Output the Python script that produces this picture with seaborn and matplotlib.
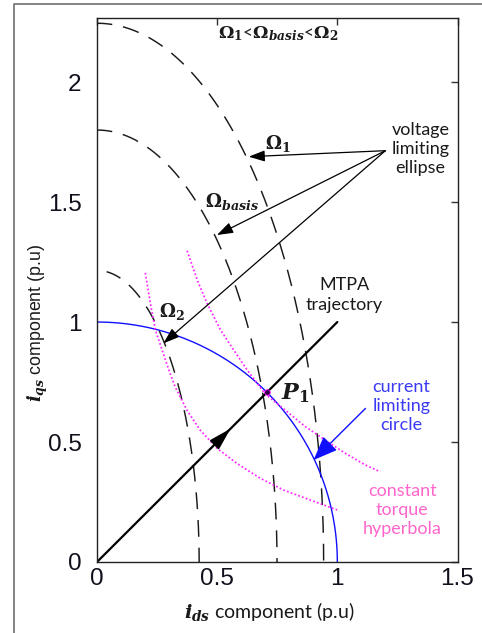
import numpy as np
import pandas as pd
import matplotlib
matplotlib.use("Agg")
import matplotlib.pyplot as plt
import seaborn as sns
from matplotlib.lines import Line2D

# ---------------- data ----------------
x_ticks = [0, 0.5, 1, 1.5]
x_tick_labels = ["0", "0.5", "1", "1.5"]
y_ticks = [0, 0.5, 1, 1.5, 2]
y_tick_labels = ["0", "0.5", "1", "1.5", "2"]

# voltage limiting ellipses (Omega_1, Omega_basis, Omega_2): semi-axes and start of drawn arc
ellipse_names = ["Omega_1", "Omega_basis", "Omega_2"]
ellipse_x_semi = [0.943, 0.749, 0.425]
ellipse_y_semi = [2.245, 1.800, 1.215]
ellipse_x_start = [0.0, 0.0, 0.04]

# current limiting circle
circle_radius = 1.0

# constant torque hyperbolas
torque_low_x = [0.201, 0.222, 0.243, 0.271, 0.299, 0.325, 0.374, 0.429, 0.499, 0.582, 0.679, 0.776, 0.888, 0.999]
torque_low_y = [1.205, 1.078, 0.967, 0.883, 0.800, 0.730, 0.633, 0.550, 0.474, 0.411, 0.349, 0.300, 0.258, 0.217]
torque_high_x = [0.375, 0.417, 0.458, 0.514, 0.569, 0.625, 0.700, 0.783, 0.867, 0.950, 1.033, 1.117, 1.179]
torque_high_y = [1.297, 1.175, 1.078, 0.967, 0.883, 0.800, 0.700, 0.633, 0.564, 0.508, 0.453, 0.404, 0.376]

# MTPA trajectory
mtpa_x = [0.0, 1.0]
mtpa_y = [0.0, 1.0]

# operating point P1
p1_x = [0.707]
p1_y = [0.707]

# ---------------- styling ----------------
sns.set_theme(style="white")
plt.rcParams["font.family"] = ["Lato", "DejaVu Sans"]
plt.rcParams["mathtext.fontset"] = "custom"
plt.rcParams["mathtext.rm"] = "DejaVu Serif:bold"
plt.rcParams["mathtext.it"] = "DejaVu Serif:italic:bold"
plt.rcParams["mathtext.bf"] = "DejaVu Serif:bold"
plt.rcParams["lines.scale_dashes"] = True

W, H = 482, 633
fig = plt.figure(figsize=(W / 100, H / 100), dpi=100)
fig.patch.set_facecolor("white")
ax = fig.add_axes([97 / W, 1 - 562 / H, (457.5 - 97) / W, (562 - 17.5) / H])
ax.set_facecolor("white")

# outer grey frame (left and top only)
fig.add_artist(Line2D([14 / W, 14 / W, 1.0], [0.0, 1 - 4 / H, 1 - 4 / H],
                      transform=fig.transFigure, color="#7a7a7a", lw=1.3))

# ellipses
for a, b, xs in zip(ellipse_x_semi, ellipse_y_semi, ellipse_x_start):
    th = np.linspace(np.arcsin(xs / a), np.pi / 2, 300)
    df = pd.DataFrame({"x": a * np.sin(th), "y": b * np.cos(th)})
    sns.lineplot(data=df, x="x", y="y", sort=False, estimator=None, ax=ax,
                 color="#1a1a1a", lw=1.05, linestyle=(1, (11.5, 7.5)))

# circle
th = np.linspace(0, np.pi / 2, 300)
circ = pd.DataFrame({"x": circle_radius * np.cos(th)[::-1], "y": circle_radius * np.sin(th)[::-1]})
sns.lineplot(data=circ, x="x", y="y", sort=False, estimator=None, ax=ax, color="#1010ff", lw=1.0)

# torque hyperbolas
for hx, hy in [(torque_low_x, torque_low_y), (torque_high_x, torque_high_y)]:
    sns.lineplot(x=hx, y=hy, sort=False, estimator=None, ax=ax,
                 color="#ff22ff", lw=1.25, linestyle=(0, (1, 1.3)))

# MTPA line
sns.lineplot(x=mtpa_x, y=mtpa_y, sort=False, estimator=None, ax=ax, color="black", lw=1.6)
ax.annotate("", xy=(0.556, 0.556), xytext=(0.49, 0.49),
            arrowprops=dict(arrowstyle="-|>,head_length=1.0,head_width=0.28", color="black",
                            lw=1.2, shrinkA=0, shrinkB=0, mutation_scale=14))

# P1 point
sns.scatterplot(x=p1_x, y=p1_y, ax=ax, s=16, color="#2a0040", edgecolor="#ff00ff", linewidth=0.6, zorder=5)

# ---------------- axes ----------------
ax.set_xlim(0, 1.5)
ax.set_ylim(0, 2.269)
ax.set_xticks(x_ticks)
ax.set_xticklabels(x_tick_labels)
ax.set_yticks(y_ticks)
ax.set_yticklabels(y_tick_labels)
for lab in ax.get_xticklabels() + ax.get_yticklabels():
    lab.set_family(["Liberation Sans", "DejaVu Sans"])
    lab.set_fontsize(17.5)
    lab.set_color("#10101c")
ax.tick_params(axis="both", which="both", direction="in", top=True, right=True,
               length=4.8, width=1.0, color="#333333")
ax.tick_params(axis="x", pad=4)
ax.tick_params(axis="y", pad=11)
for s in ax.spines.values():
    s.set_color("#222222")
    s.set_linewidth(1.0)

ax.set_xlabel(r"$i_{ds}$ component (p.u)", fontsize=14, color="#1a1a1a",
              family=["Lato", "DejaVu Sans"])
ax.xaxis.set_label_coords((269 - 97) / 360.5, (562 - 611.7) / 544.5)
ax.xaxis.label.set_va("center")
ax.set_ylabel(r"$i_{qs}$ component (p.u)", fontsize=12.8, color="#1a1a1a",
              family=["Liberation Sans", "DejaVu Sans"])
ax.yaxis.set_label_coords((38.3 - 97) / 360.5, (562 - 323.3) / 544.5)
ax.yaxis.label.set_va("center")

# ---------------- annotations ----------------
txt = "#1a1a1a"
ax.text(0.752, 2.2, r"$\Omega_1$<$\Omega_{basis}$<$\Omega_2$", ha="center", va="center",
        fontsize=12.5, color=txt)
ax.text(0.754, 1.746, r"$\Omega_1$", ha="center", va="center", fontsize=13, color=txt)
ax.text(0.561, 1.501, r"$\Omega_{basis}$", ha="center", va="center", fontsize=13, color=txt)
ax.text(0.311, 1.043, r"$\Omega_2$", ha="center", va="center", fontsize=13, color=txt)
ax.text(0.825, 0.704, r"$P_1$", ha="center", va="center", fontsize=16, color=txt)

ax.text(1.346, 1.721, "voltage\nlimiting\nellipse", ha="center", va="center",
        fontsize=13, color=txt, linespacing=1.25)
ax.text(1.03, 1.113, "MTPA\ntrajectory", ha="center", va="center",
        fontsize=13, color=txt, linespacing=1.25)
ax.text(1.267, 0.65, "current\nlimiting\ncircle", ha="center", va="center",
        fontsize=13, color="#3a3af5", linespacing=1.25)
ax.text(1.27, 0.217, "constant\ntorque\nhyperbola", ha="center", va="center",
        fontsize=13, color="#ff66cc", linespacing=1.25)

src = (1.2, 1.714)
for tgt in [(0.631, 1.689), (0.499, 1.3625), (0.276, 0.911)]:
    ax.annotate("", xy=tgt, xytext=src,
                arrowprops=dict(arrowstyle="-|>,head_length=0.7,head_width=0.24", color="black",
                                lw=0.9, shrinkA=0, shrinkB=0, mutation_scale=14))

ax.annotate("", xy=(0.901, 0.425), xytext=(1.117, 0.640),
            arrowprops=dict(arrowstyle="-|>,head_length=1.0,head_width=0.4", color="#1010ff",
                            lw=1.0, shrinkA=0, shrinkB=0, mutation_scale=15))

fig.savefig("out.png", dpi=100)
